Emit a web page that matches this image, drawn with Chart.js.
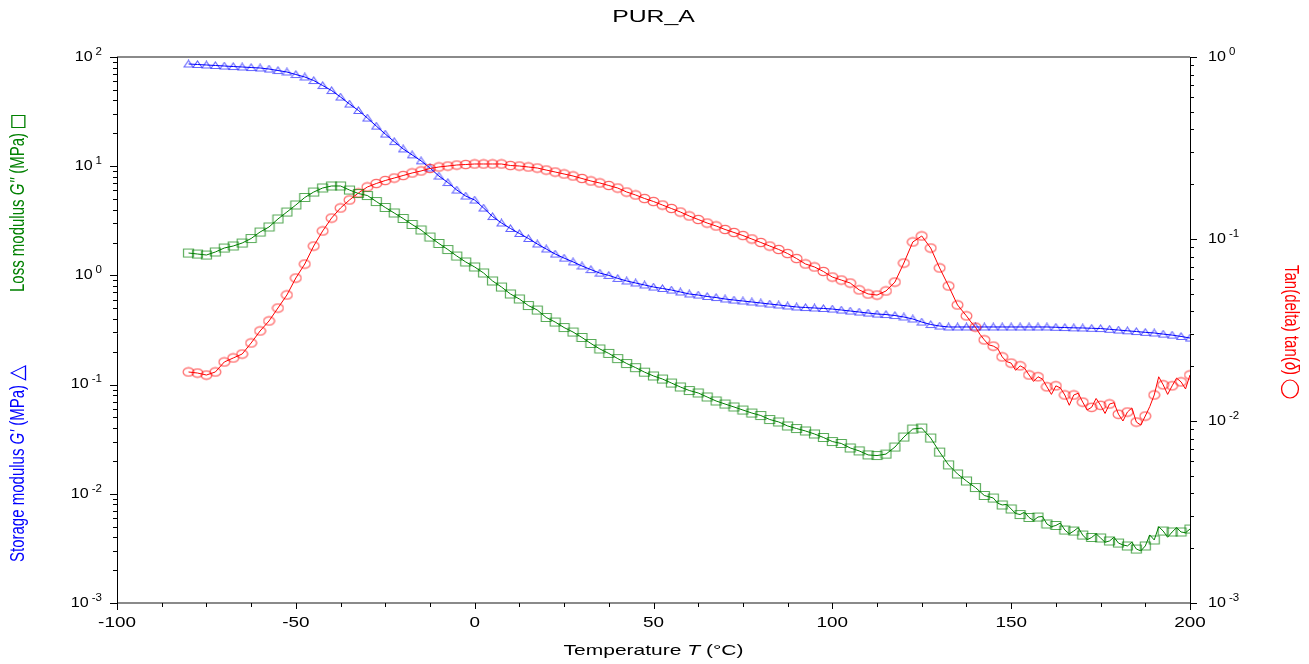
<!DOCTYPE html>
<html>
<head>
<meta charset="utf-8">
<title>PUR_A</title>
<script src="https://cdn.jsdelivr.net/npm/chart.js@4.4.0/dist/chart.umd.min.js"></script>
<style>
  html, body { margin: 0; padding: 0; background: #fff; }
  #wrap { width: 1309px; height: 664px; }
</style>
</head>
<body>
<div id="wrap"><canvas id="dma"></canvas></div>
<script>
// temperature (°C), one row per marked point
const temps = [
  -80, -77.5, -75, -72.5, -70, -67.5, -65, -62.5, -60, -57.5,
  -55, -52.5, -50, -47.5, -45, -42.5, -40, -37.5, -35, -32.5,
  -30, -27.5, -25, -22.5, -20, -17.5, -15, -12.5, -10, -7.5,
  -5, -2.5, 0,
  2.5, 5, 7.5, 10, 12.5, 15, 17.5, 20, 22.5, 25,
  27.5, 30, 32.5, 35, 37.5, 40, 42.5, 45, 47.5, 50,
  52.5, 55, 57.5, 60, 62.5, 65, 67.5, 70, 72.5, 75,
  77.5, 80, 82.5, 85, 87.5, 90, 92.5, 95, 97.5, 100,
  102.5, 105, 107.5, 110, 112.5, 115, 117.5, 120, 122.5, 125,
  127.5, 130, 132.5, 135, 137.5, 140, 142.5, 145, 147.5, 150,
  152.5, 155, 157.5, 160, 162.5, 165, 167.5, 170, 172.5, 175,
  177.5, 180, 182.5, 185, 187.5, 190, 192.5, 195, 197.5, 200
];

// storage modulus G' (MPa)
const storageMod = [
  86.3, 85.4, 84.5, 83.6, 82.7, 81.8, 81.0, 80.1, 79.3, 77.6,
  75.2, 72.9, 69.1, 65.6, 60.9, 54.8, 49.3, 43.0, 37.1, 32.4,
  27.6, 23.3, 19.7, 16.8, 14.4, 12.7, 11.2, 9.63, 8.13, 7.09,
  6.05, 5.33, 4.90,
  4.14, 3.46, 3.02, 2.69, 2.42, 2.18, 1.94, 1.745, 1.57, 1.44,
  1.33, 1.22, 1.13, 1.05, 1.00, 0.939, 0.889, 0.852, 0.817, 0.783,
  0.759, 0.735, 0.705, 0.676, 0.661, 0.641, 0.627, 0.608, 0.595, 0.583,
  0.571, 0.559, 0.547, 0.536, 0.525, 0.514, 0.508, 0.503, 0.498, 0.492,
  0.482, 0.472, 0.462, 0.452, 0.443, 0.438, 0.429, 0.416, 0.399, 0.374,
  0.355, 0.344, 0.337, 0.337, 0.337, 0.337, 0.337, 0.337, 0.337, 0.337,
  0.337, 0.337, 0.337, 0.337, 0.335, 0.333, 0.331, 0.330, 0.328, 0.326,
  0.321, 0.316, 0.311, 0.306, 0.301, 0.297, 0.290, 0.284, 0.276, 0.267
];

// loss modulus G'' (MPa)
const lossMod = [
  1.603, 1.570, 1.537, 1.638, 1.782, 1.859, 1.980, 2.177, 2.497, 2.775,
  3.285, 3.807, 4.413, 5.169, 5.802, 6.316, 6.588, 6.588, 6.053, 5.623,
  5.391, 4.750, 4.186, 3.728, 3.320, 2.925, 2.605, 2.247, 1.960, 1.726,
  1.505, 1.327, 1.194,
  1.052, 0.889, 0.783, 0.676, 0.608, 0.530, 0.482, 0.412, 0.374, 0.333,
  0.303, 0.270, 0.238, 0.212, 0.193, 0.173, 0.156, 0.143, 0.130, 0.120,
  0.1125, 0.1034, 0.0951, 0.0883, 0.0838, 0.0770, 0.0708, 0.0664, 0.0624, 0.0585,
  0.0549, 0.0521, 0.0479, 0.0455, 0.0418, 0.0396, 0.0376, 0.0353, 0.0328, 0.0301,
  0.0289, 0.0263, 0.0247, 0.0227, 0.0224, 0.0231, 0.0268, 0.0331, 0.0392, 0.0400,
  0.0324, 0.0241, 0.0184, 0.0152, 0.0131, 0.01142, 0.00965, 0.00915, 0.00790, 0.00726,
  0.00646, 0.00607, 0.00613, 0.00529, 0.00513, 0.00466, 0.00456, 0.00419, 0.00398, 0.00394,
  0.00370, 0.00354, 0.00333, 0.00312, 0.00333, 0.00378, 0.00456, 0.00447, 0.00447, 0.00476
];

// tan(delta)
const tanDelta = [
  0.01859, 0.01835, 0.01789, 0.01859, 0.02110, 0.02219, 0.02334, 0.02683, 0.03123, 0.03544,
  0.04177, 0.04924, 0.06105, 0.07288, 0.09152, 0.1107, 0.1304, 0.1481, 0.1638, 0.1790,
  0.1931, 0.2018, 0.2096, 0.2163, 0.2233, 0.2305, 0.2364, 0.2440, 0.2487, 0.2518,
  0.2550, 0.2566, 0.2583,
  0.2583, 0.2583, 0.2583, 0.2534, 0.2518, 0.2487, 0.2455, 0.2393, 0.2334, 0.2276,
  0.2219, 0.2150, 0.2083, 0.2031, 0.1968, 0.1906, 0.1812, 0.1745, 0.1669, 0.1607,
  0.1537, 0.1471, 0.1407, 0.1338, 0.1280, 0.1224, 0.1179, 0.1128, 0.1086, 0.1045,
  0.1000, 0.0957, 0.0915, 0.0876, 0.0832, 0.0781, 0.0729, 0.0702, 0.0663, 0.0618,
  0.0595, 0.0573, 0.0525, 0.0499, 0.0492, 0.0518, 0.0580, 0.0738, 0.0963, 0.1039,
  0.0892, 0.0693, 0.0552, 0.0434, 0.0378, 0.0328, 0.0279, 0.0258, 0.0225, 0.0208,
  0.0201, 0.0179, 0.0175, 0.0154, 0.0156, 0.0139, 0.0139, 0.0127, 0.0119, 0.0122,
  0.0124, 0.0109, 0.0112, 0.00987, 0.01065, 0.0139, 0.0158, 0.0156, 0.0164, 0.0179
];

// unmarked points in the noisy high-temperature tail
const tailTemps = [
  138.75, 141.25, 143.75, 146.25, 148.75, 151.25, 153.75, 156.25, 158.75, 161.25,
  163.75, 166.25, 168.75, 171.25, 173.75, 176.25, 178.75, 181.25, 183.75, 186.25,
  188.75, 191.25, 193.75, 196.25, 198.75
];
const lossTail = [
  0.0122, 0.0105, 0.0094, 0.0082, 0.0080, 0.0066, 0.0068, 0.0057, 0.0062, 0.0050,
  0.0054, 0.0043, 0.0049, 0.0038, 0.0043, 0.0036, 0.0040, 0.0034, 0.0036, 0.0030,
  0.0042, 0.0050, 0.0040, 0.0049, 0.0044
];
const tanTail = [
  0.0350, 0.0300, 0.0262, 0.0250, 0.0212, 0.0190, 0.0195, 0.0165, 0.0170, 0.0140,
  0.0152, 0.0122, 0.0142, 0.0115, 0.0133, 0.0110, 0.0126, 0.0100, 0.0118, 0.0095,
  0.0120, 0.0175, 0.0140, 0.0172, 0.0150
];

// tick labels
const xTicks = [-100, -50, 0, 50, 100, 150, 200];
const leftExps = [-3, -2, -1, 0, 1, 2];
const rightExps = [-3, -2, -1, 0];

const FONT = '"Liberation Sans", Arial, sans-serif';
const GREEN = "#008000", BLUE = "#0000ff", RED = "#ff0000";
const STRETCH = 1.4;   // text in the original is drawn wide

function pts(ys, tail) {
  const out = temps.map((t, i) => ({ x: t, y: ys[i], mid: false }));
  if (tail) tailTemps.forEach((t, i) => out.push({ x: t, y: tail[i], mid: true }));
  return out.sort((p, q) => p.x - q.x);
}

// hollow markers, a bit wider than tall like the original
function marker(kind, color) {
  const c = document.createElement("canvas");
  const w = kind === "tri" ? 11 : 13, h = kind === "tri" ? 9 : 11;
  c.width = w; c.height = h;
  const g = c.getContext("2d");
  g.strokeStyle = color;
  g.lineWidth = 1.2;
  g.beginPath();
  if (kind === "circle") g.ellipse(w / 2, h / 2, 5.4, 4.2, 0, 0, Math.PI * 2);
  else if (kind === "rect") g.rect(1.5, 1.5, w - 3, h - 3);
  else { g.moveTo(1, h - 1.5); g.lineTo(w - 1, h - 1.5); g.lineTo(w / 2, 1); g.closePath(); }
  g.stroke();
  return c;
}

function textW(ctx, text, sx) {
  return ctx.measureText(text).width * sx;
}

// fill text stretched horizontally, aligned by hand
function fillWide(ctx, text, x, y, align, sx) {
  const w = textW(ctx, text, sx);
  const x0 = align === "center" ? x - w / 2 : align === "right" ? x - w : x;
  ctx.save();
  ctx.textAlign = "left";
  ctx.translate(x0, y);
  ctx.scale(sx, 1);
  ctx.fillText(text, 0, 0);
  ctx.restore();
}

// draws "10" with a raised exponent
function drawPow(ctx, x, y, exp, align) {
  const base = "10", sup = String(exp), sx = 1.15;
  ctx.font = "14px " + FONT;
  const wb = textW(ctx, base, sx);
  ctx.font = "10px " + FONT;
  const ws = textW(ctx, sup, sx);
  const x0 = align === "right" ? x - wb - ws - 3 : x;
  ctx.textBaseline = "middle";
  ctx.font = "14px " + FONT;
  fillWide(ctx, base, x0, y, "left", sx);
  ctx.font = "10px " + FONT;
  fillWide(ctx, sup, x0 + wb + 3, y - 5, "left", sx);
}

function drawRuns(ctx, runs) {
  let x = 0;
  runs.forEach(r => {
    ctx.font = r.font;
    ctx.fillText(r.text, x, 0);
    x += ctx.measureText(r.text).width;
  });
  return x;
}

function runsWidth(ctx, runs) {
  return runs.reduce((w, r) => { ctx.font = r.font; return w + ctx.measureText(r.text).width; }, 0);
}

const dmaAxes = {
  id: "dmaAxes",
  afterDraw(chart) {
    const { ctx, chartArea: a, scales } = chart;
    const sx = scales.x, sy = scales.y, sy2 = scales.y2;
    ctx.save();

    // frame
    ctx.strokeStyle = "#8a8a8a";
    ctx.lineWidth = 2;
    ctx.beginPath();
    ctx.moveTo(a.left, a.top); ctx.lineTo(a.right, a.top);
    ctx.moveTo(a.left, a.bottom); ctx.lineTo(a.right, a.bottom);
    ctx.stroke();
    ctx.strokeStyle = "#000";
    ctx.lineWidth = 1;
    ctx.beginPath();
    ctx.moveTo(a.left + 0.5, a.top); ctx.lineTo(a.left + 0.5, a.bottom + 7);
    ctx.moveTo(a.right + 0.5, a.top); ctx.lineTo(a.right + 0.5, a.bottom + 7);
    ctx.stroke();

    // x ticks every 12.5
    ctx.beginPath();
    for (let v = -100; v <= 200; v += 12.5) {
      const px = Math.round(sx.getPixelForValue(v)) + 0.5;
      const len = v % 50 === 0 ? 6 : 4;
      ctx.moveTo(px, a.bottom); ctx.lineTo(px, a.bottom + len);
    }
    // left log ticks
    leftExps.forEach(e => {
      for (let k = 1; k <= 9; k++) {
        if (e === 2 && k > 1) break;
        const py = Math.round(sy.getPixelForValue(k * Math.pow(10, e))) + 0.5;
        const len = k === 1 ? 7 : 4;
        ctx.moveTo(a.left, py); ctx.lineTo(a.left - len, py);
      }
    });
    // right log ticks
    rightExps.forEach(e => {
      for (let k = 1; k <= 9; k++) {
        if (e === 0 && k > 1) break;
        const py = Math.round(sy2.getPixelForValue(k * Math.pow(10, e))) + 0.5;
        const len = k === 1 ? 7 : 4;
        ctx.moveTo(a.right, py); ctx.lineTo(a.right + len, py);
      }
    });
    ctx.stroke();

    // tick labels
    ctx.fillStyle = "#000";
    ctx.font = "14px " + FONT;
    ctx.textBaseline = "top";
    xTicks.forEach(v => fillWide(ctx, String(v), sx.getPixelForValue(v), a.bottom + 13, "center", 1.35));
    leftExps.forEach(e => drawPow(ctx, a.left - 15, sy.getPixelForValue(Math.pow(10, e)), e, "right"));
    rightExps.forEach(e => drawPow(ctx, a.right + 18, sy2.getPixelForValue(Math.pow(10, e)), e, "left"));

    // title
    ctx.font = "16px " + FONT;
    ctx.textBaseline = "middle";
    fillWide(ctx, "PUR_A", (a.left + a.right) / 2, 18, "center", 1.55);

    // x axis title
    const xRuns = [
      { text: "Temperature ", font: "15px " + FONT },
      { text: "T", font: "italic 15px " + FONT },
      { text: " (°C)", font: "15px " + FONT }
    ];
    ctx.textAlign = "left";
    const xw = runsWidth(ctx, xRuns) * STRETCH;
    ctx.save();
    ctx.translate((a.left + a.right) / 2 - xw / 2, 651);
    ctx.scale(STRETCH, 1);
    drawRuns(ctx, xRuns);
    ctx.restore();

    // left axis titles (rotated)
    const lab = (color, runs, x0, y0, sym) => {
      ctx.save();
      ctx.translate(x0, y0);
      ctx.rotate(-Math.PI / 2);
      ctx.scale(1, 1.3);
      ctx.fillStyle = color;
      ctx.strokeStyle = color;
      ctx.lineWidth = 1;
      const w = drawRuns(ctx, runs) + 5;
      ctx.beginPath();
      if (sym === "tri") {
        ctx.moveTo(w, 5); ctx.lineTo(w + 14, 5); ctx.lineTo(w + 7, -6); ctx.closePath();
      } else {
        ctx.rect(w + 0.5, -5.5, 12, 10);
      }
      ctx.stroke();
      ctx.restore();
    };
    ctx.textAlign = "left";
    ctx.textBaseline = "middle";
    lab(BLUE, [
      { text: "Storage modulus ", font: "15px " + FONT },
      { text: "G'", font: "italic 15px " + FONT },
      { text: " (MPa)", font: "15px " + FONT }
    ], 19, 562, "tri");
    lab(GREEN, [
      { text: "Loss modulus ", font: "15px " + FONT },
      { text: "G''", font: "italic 15px " + FONT },
      { text: " (MPa)", font: "15px " + FONT }
    ], 19, 292, "sq");

    // right axis title
    ctx.save();
    ctx.translate(1290, 265);
    ctx.rotate(Math.PI / 2);
    ctx.scale(1, 1.3);
    ctx.fillStyle = RED;
    ctx.strokeStyle = RED;
    const rw = drawRuns(ctx, [
      { text: "Tan(delta) tan(", font: "15px " + FONT },
      { text: "δ", font: "italic 15px " + FONT },
      { text: ")", font: "15px " + FONT }
    ]) + 5;
    ctx.beginPath();
    ctx.ellipse(rw + 9, 0, 9, 6.5, 0, 0, Math.PI * 2);
    ctx.stroke();
    ctx.restore();

    ctx.restore();
  }
};

const markerSet = (color, style) => ({
  borderColor: color,
  borderWidth: 1,
  pointStyle: style,
  pointRadius: c => (c.raw && c.raw.mid ? 0 : 5),
  fill: false,
  tension: 0
});

new Chart(document.getElementById("dma"), {
  type: "line",
  data: {
    datasets: [
      Object.assign({ label: "G''", data: pts(lossMod, lossTail), yAxisID: "y" }, markerSet(GREEN, marker("rect", "rgba(0,128,0,0.65)"))),
      Object.assign({ label: "tan δ", data: pts(tanDelta, tanTail), yAxisID: "y2" }, markerSet(RED, marker("circle", "rgba(255,0,0,0.6)"))),
      Object.assign({ label: "G'", data: pts(storageMod), yAxisID: "y" }, markerSet(BLUE, marker("tri", "rgba(0,0,255,0.6)")))
    ]
  },
  options: {
    responsive: true,
    maintainAspectRatio: false,
    animation: false,
    layout: { padding: { top: 57, left: 0, right: 0, bottom: 0 } },
    plugins: { legend: { display: false }, title: { display: false }, tooltip: { enabled: false } },
    scales: {
      x: {
        type: "linear", min: -100, max: 200,
        grid: { display: false }, border: { display: false },
        ticks: { display: false },
        afterFit: s => { s.height = 61; }
      },
      y: {
        type: "logarithmic", position: "left", min: 0.001, max: 100,
        grid: { display: false }, border: { display: false },
        ticks: { display: false },
        afterFit: s => { s.width = 117; }
      },
      y2: {
        type: "logarithmic", position: "right", min: 0.001, max: 1,
        grid: { display: false }, border: { display: false },
        ticks: { display: false },
        afterFit: s => { s.width = 119; }
      }
    }
  },
  plugins: [dmaAxes]
});
</script>
</body>
</html>
